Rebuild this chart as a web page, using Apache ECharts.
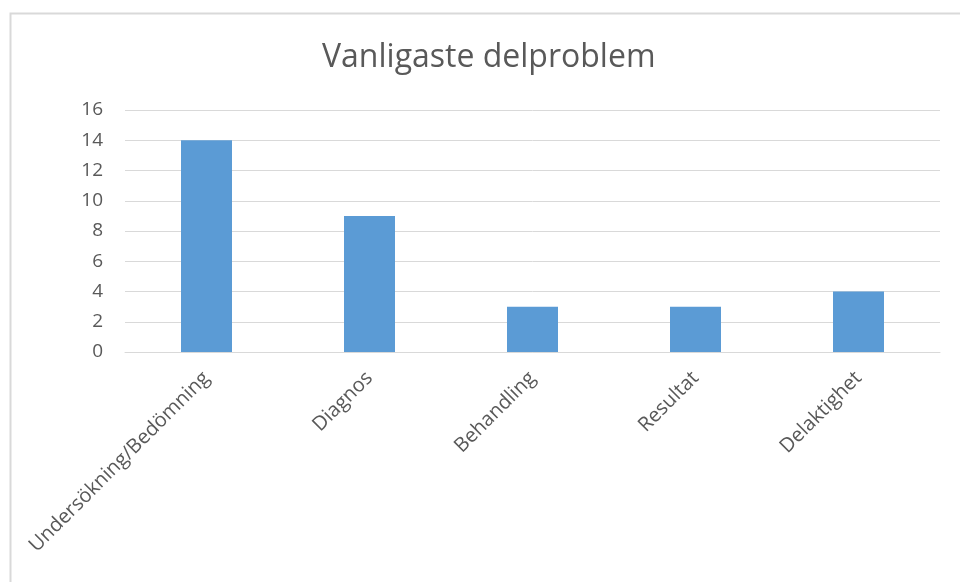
<!DOCTYPE html>
<html>
<head>
<meta charset="utf-8">
<script src="https://cdn.jsdelivr.net/npm/echarts@6/dist/echarts.min.js"></script>
<style>
  html, body { margin: 0; padding: 0; background: #fff; }
  #chart { width: 960px; height: 582px; }
</style>
</head>
<body>
<div id="chart"></div>
<script>
var categories = ["Undersökning/Bedömning", "Diagnos", "Behandling", "Resultat", "Delaktighet"];
var values = [14, 9, 3, 3, 4];
var titleText = "Vanligaste delproblem";

var myChart = echarts.init(document.getElementById("chart"));
var option = {
  animation: false,
  textStyle: { fontFamily: "Open Sans" },
  title: {
    text: titleText,
    left: 317,
    top: 37,
    textStyle: { fontSize: 32, fontWeight: "normal", color: "#595959", fontFamily: "Open Sans" }
  },
  graphic: [
    {
      type: "rect",
      left: 8,
      top: 11,
      shape: { width: 1000, height: 620 },
      style: { fill: "none", stroke: "#d9d9d9", lineWidth: 2 },
      silent: true
    }
  ],
  grid: { left: 125, right: 20, top: 110, bottom: 230, containLabel: false },
  xAxis: {
    type: "category",
    data: categories,
    axisTick: { show: false },
    axisLine: { lineStyle: { color: "#d9d9d9", width: 1 } },
    axisLabel: { rotate: 45, interval: 0, fontSize: 20, color: "#595959", margin: 23 }
  },
  yAxis: {
    type: "value",
    min: 0,
    max: 16,
    interval: 2,
    axisLine: { show: false },
    axisTick: { show: false },
    splitLine: { lineStyle: { color: "#d9d9d9", width: 1 } },
    axisLabel: { fontSize: 19, color: "#595959", margin: 22 }
  },
  series: [
    {
      type: "bar",
      data: values,
      barWidth: 51,
      itemStyle: { color: "#5b9bd5" }
    }
  ]
};
myChart.setOption(option, true);
</script>
</body>
</html>
